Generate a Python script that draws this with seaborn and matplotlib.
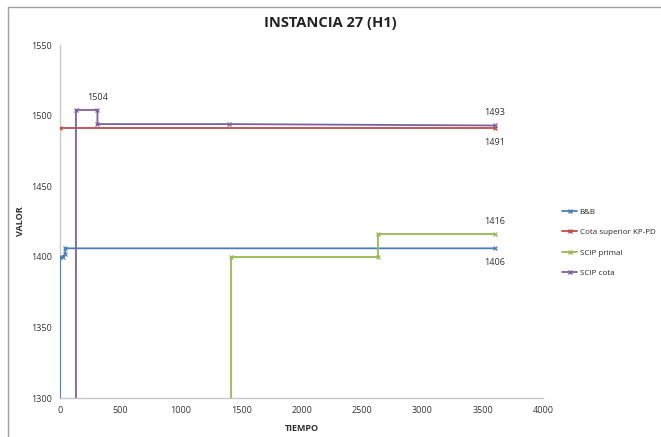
import matplotlib
matplotlib.use("Agg")
import matplotlib.pyplot as plt
from matplotlib.lines import Line2D
import seaborn as sns
import pandas as pd

# Series data (tiempo, valor) as step points
bb_t = [0, 0, 25, 40, 45, 3600]
bb_v = [1250, 1400, 1400, 1402, 1406, 1406]

kp_t = [0, 3600]
kp_v = [1491, 1491]

primal_t = [1420, 1420, 2630, 2630, 3600]
primal_v = [1250, 1400, 1400, 1416, 1416]

cota_t = [132, 132, 310, 310, 1400, 3600]
cota_v = [1250, 1504, 1504, 1494, 1494, 1493]

series_names = ["B&B", "Cota superior KP-PD", "SCIP primal", "SCIP cota"]
series_colors = ["#4A7EBB", "#BE4B48", "#98B954", "#7D60A0"]

# Value labels: (tiempo, valor, text, above?)
labels = [
    (310, 1504, "1504", True),
    (3600, 1493, "1493", True),
    (3600, 1491, "1491", False),
    (3600, 1416, "1416", True),
    (3600, 1406, "1406", False),
]

x_ticks = [0, 500, 1000, 1500, 2000, 2500, 3000, 3500, 4000]
y_ticks = [1300, 1350, 1400, 1450, 1500, 1550]

frames = []
for name, t, v in zip(series_names,
                      [bb_t, kp_t, primal_t, cota_t],
                      [bb_v, kp_v, primal_v, cota_v]):
    frames.append(pd.DataFrame({"TIEMPO": t, "VALOR": v, "serie": name}))
df = pd.concat(frames, ignore_index=True)

sns.set_theme(style="white")
plt.rcParams["font.family"] = ["Open Sans", "DejaVu Sans"]

fig = plt.figure(figsize=(6.61, 4.37), dpi=100)
ax = fig.add_axes([0.0908, 0.0892, 0.7307, 0.8078])

palette = dict(zip(series_names, series_colors))
sns.lineplot(data=df, x="TIEMPO", y="VALOR", hue="serie", units="serie",
             estimator=None, sort=False, palette=palette, marker="x",
             markersize=3.5, linewidth=1.3, ax=ax, legend=False)

# x markers in the line colour, drawn above the axis lines
for ln in ax.lines:
    ln.set_markeredgecolor(ln.get_color())
    ln.set_markeredgewidth(0.9)
    ln.set_zorder(3)

ax.set_xlim(0, 4000)
ax.set_ylim(1300, 1550)
ax.set_xticks(x_ticks)
ax.set_yticks(y_ticks)
ax.tick_params(axis="both", length=0, labelsize=6.5, colors="#333333", pad=6)

for side in ["top", "right"]:
    ax.spines[side].set_visible(False)
for side in ["left", "bottom"]:
    ax.spines[side].set_color("#C8C8C8")
    ax.spines[side].set_linewidth(1.0)
    ax.spines[side].set_zorder(1)

ax.set_xlabel("TIEMPO", fontsize=6.5, fontweight="bold", color="#333333", labelpad=6)
ax.set_ylabel("VALOR", fontsize=6.5, fontweight="bold", color="#333333", labelpad=4)

for t, v, txt, above in labels:
    ax.annotate(txt, (t, v), xytext=(0, 6 if above else -7),
                textcoords="offset points", ha="center",
                va="bottom" if above else "top", fontsize=6.5, color="#333333")

fig.text(0.5, 0.948, "INSTANCIA 27 (H1)", ha="center", va="center",
         fontsize=10.5, fontweight="bold", color="#222222")

handles = [Line2D([0], [0], color=c, marker="x", markersize=3.5, linewidth=1.3,
                  markeredgecolor=c) for c in series_colors]
fig.legend(handles, series_names, loc="center left",
           bbox_to_anchor=(0.85, 0.445), frameon=False, fontsize=5.8,
           handlelength=1.9, labelspacing=1.6, handletextpad=0.3,
           borderaxespad=0, borderpad=0)

# Chart border
fig.add_artist(Line2D([0.012, 0.012], [0, 0.985], transform=fig.transFigure,
                      color="#A0A0A0", linewidth=1.0))
fig.add_artist(Line2D([0.012, 1.0], [0.985, 0.985], transform=fig.transFigure,
                      color="#A0A0A0", linewidth=1.0))

fig.savefig("out.png", dpi=100)
